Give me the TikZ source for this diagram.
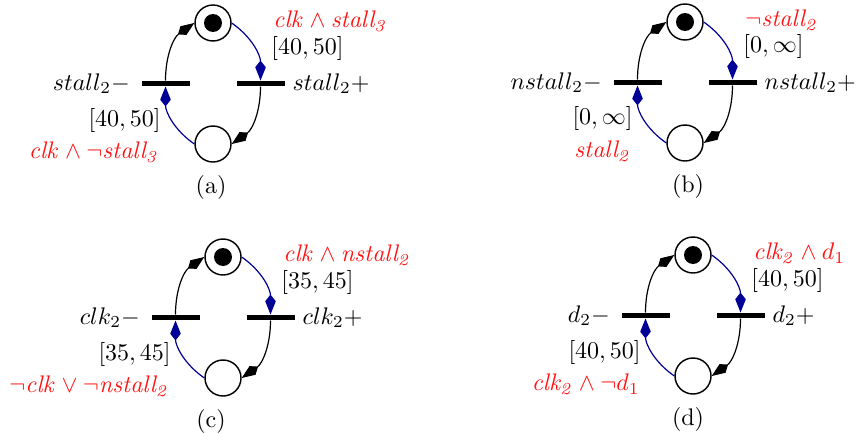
\documentclass[tikz,border=0pt]{standalone}
\usetikzlibrary{arrows.meta}
\definecolor{arcblue}{RGB}{0,0,150}
\definecolor{lblred}{RGB}{255,20,20}
\newcommand\petripanel[7]{%
  \node[place] (#1p1) at (0,0) {};
  \node[token] (#1tok) at (#1p1.center) {};
  \node[place] (#1p2) at (0,-121) {};
  \node[trans] (#1t1) at (-47.5,-60.5) {};
  \node[trans] (#1t2) at (47.5,-60.5) {};
  \draw[arcb] (#1t1) to[out=90,in=215] (#1p1.west);
  \draw[arcu] (#1p1.east) to[out=-35,in=90] (#1t2);
  \draw[arcb] (#1t2) to[out=-90,in=35] (#1p2.east);
  \draw[arcu] (#1p2.west) to[out=145,in=-90] (#1t1);
  \node[tlbl,anchor=east,xshift=-4.5pt] (#1lm) at (#1t1.west) {$#2-$};
  \node[tlbl,anchor=west,xshift=3pt] (#1lp) at (#1t2.east) {$#2+$};
  \node[cond,anchor=west] (#1c1) at (60,2) {$#3$};
  \node[ivl,anchor=west] (#1i1) at (58,-25) {$#4$};
  \node[ivl,anchor=east] (#1i2) at (-52,-97) {$#5$};
  \node[cond,anchor=east] (#1c2) at (-53,-129) {$#6$};
  \node[inner sep=0pt] (#1cap) at (#7,-164) {(#1)};
}
\begin{document}
\begin{tikzpicture}[x=0.4167pt,y=0.4167pt,
  place/.style={circle,draw,line width=0.6pt,minimum size=15pt,inner sep=0pt},
  token/.style={circle,fill=black,minimum size=7.5pt,inner sep=0pt},
  trans/.style={rectangle,fill=black,minimum width=20pt,minimum height=2.1pt,inner sep=0pt},
  pkite/.tip={Kite[length=8.3pt,width=4.4pt,inset=2.8pt]},
  arcb/.style={line width=0.5pt,-{pkite}},
  arcu/.style={line width=0.5pt,draw=arcblue,-{pkite[fill=arcblue,color=arcblue]}},
  tlbl/.style={inner sep=0pt},
  cond/.style={text=lblred,inner sep=0pt},
  ivl/.style={inner sep=0pt}]
\useasboundingbox (0,0) rectangle (863,433);
\begin{scope}[shift={(213,410)}]
  \petripanel{a}{stall_2}{\mathit{clk}\wedge\mathit{stall_3}}{[40,50]}{[40,50]}{\mathit{clk}\wedge\neg\mathit{stall_3}}{-2}
\end{scope}
\begin{scope}[shift={(685,411)}]
  \petripanel{b}{nstall_2}{\neg\mathit{stall_2}}{[0,\infty]}{[0,\infty]}{\mathit{stall_2}}{3}
\end{scope}
\begin{scope}[shift={(223,176)}]
  \petripanel{c}{clk_2}{\mathit{clk}\wedge\mathit{nstall_2}}{[35,45]}{[35,45]}{\neg\mathit{clk}\vee\neg\mathit{nstall_2}}{-12}
\end{scope}
\begin{scope}[shift={(693,178)}]
  \petripanel{d}{d_2}{\mathit{clk_2}\wedge d_1}{[40,50]}{[40,50]}{\mathit{clk_2}\wedge\neg d_1}{-5}
\end{scope}
\end{tikzpicture}
\end{document}
